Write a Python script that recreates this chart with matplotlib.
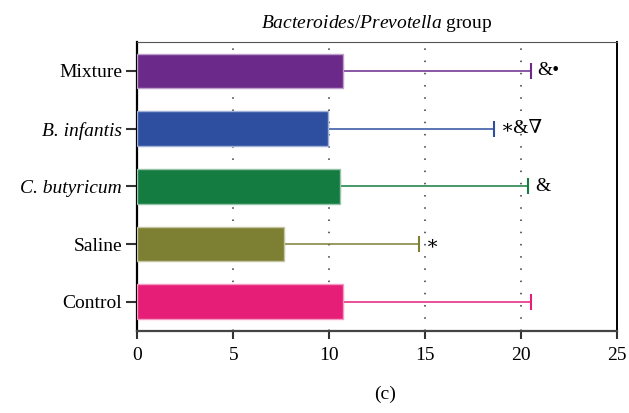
import matplotlib.pyplot as plt
import matplotlib.colors as mcolors
import numpy as np

plt.rcParams['font.family'] = ['Liberation Serif', 'DejaVu Serif']
plt.rcParams['mathtext.fontset'] = 'custom'
plt.rcParams['mathtext.rm'] = 'Liberation Serif'
plt.rcParams['mathtext.it'] = 'Liberation Serif:italic'

# groups, bottom to top
groups = ['Control', 'Saline', 'C. butyricum', 'B. infantis', 'Mixture']
italic_groups = ['C. butyricum', 'B. infantis']
means = [10.70, 7.65, 10.58, 9.95, 10.70]
sd = [9.81, 7.03, 9.81, 8.65, 9.81]
marks = ['', '∗', '&', '∗&∇', '&•']
colors = ['#e61e78', '#7d7f33', '#147c40', '#2e4fa0', '#6b2a8a']


def lighten(c, amt=0.45):
    rgb = np.array(mcolors.to_rgb(c))
    return tuple(rgb + (1 - rgb) * amt)


fig = plt.figure(figsize=(6.29, 4.13), dpi=100)
ax = fig.add_axes([0.2186, 0.1993, 0.762, 0.699])

y = np.arange(len(groups))
ax.barh(y, means, height=0.6, color=colors,
        edgecolor=[lighten(c, 0.55) for c in colors], linewidth=1, zorder=3)

for i in range(len(groups)):
    ax.errorbar(means[i], y[i], xerr=[[0], [sd[i]]], fmt='none',
                ecolor=colors[i], elinewidth=1.1, capsize=6, capthick=1.5,
                zorder=2)
    if marks[i]:
        ax.annotate(marks[i], xy=(means[i] + sd[i], y[i]), xytext=(5, 0),
                    textcoords='offset points', va='center', ha='left',
                    fontsize=14, family=['Liberation Serif', 'DejaVu Serif'])

# dotted vertical grid
for gx in [5, 10, 15, 20]:
    ax.axvline(gx, color='#333333', linewidth=1.1, linestyle=(0, (1, 7)),
               zorder=1)

ax.set_xlim(0, 25)
ax.set_ylim(-0.5, 4.5)
ax.set_xticks([0, 5, 10, 15, 20, 25])
ax.set_yticks(y)
ax.set_yticklabels(groups)
for lbl in ax.get_yticklabels():
    if lbl.get_text() in italic_groups:
        lbl.set_fontstyle('italic')

ax.tick_params(axis='y', length=8, width=1.5, color='#333333', pad=3,
               labelsize=14)
ax.tick_params(axis='x', length=6, width=1.5, color='#333333', pad=6,
               labelsize=14)

ax.spines['left'].set_linewidth(1.6)
ax.spines['left'].set_color('black')
ax.spines['right'].set_linewidth(1.4)
ax.spines['right'].set_color('black')
ax.spines['bottom'].set_linewidth(1.6)
ax.spines['bottom'].set_color('#444444')
ax.spines['top'].set_linewidth(0.8)
ax.spines['top'].set_color('#555555')

ax.set_title('$\\mathit{Bacteroides/Prevotella}$ group', fontsize=14, pad=10)
fig.text(0.612, 0.045, '(c)', ha='center', va='center', fontsize=14)

fig.savefig('out.png', dpi=100)
